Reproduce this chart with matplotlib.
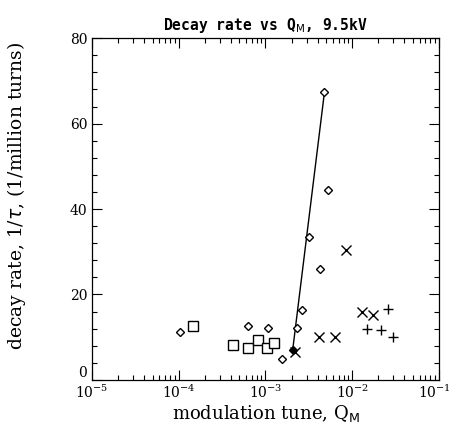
import matplotlib
matplotlib.use("Agg")
import matplotlib.pyplot as plt
import matplotlib.transforms as mtransforms
from matplotlib.ticker import LogLocator, MultipleLocator, NullFormatter

# data
diamond_q = [1.04e-4, 6.3e-4, 1.07e-3, 1.55e-3, 2.34e-3, 2.61e-3, 3.17e-3, 4.3e-3, 5.3e-3, 4.8e-3]
diamond_rate = [11.1, 12.6, 12.2, 5.0, 12.2, 16.4, 33.5, 26.0, 44.4, 67.4]

square_q = [1.46e-4, 4.2e-4, 6.25e-4, 8.3e-4, 1.05e-3, 1.26e-3]
square_rate = [12.7, 8.1, 7.5, 9.4, 7.4, 8.6]

cross_q = [2.22e-3, 4.2e-3, 6.4e-3, 8.4e-3, 1.29e-2, 1.73e-2]
cross_rate = [6.6, 10.0, 10.0, 30.4, 16.0, 15.1]

plus_q = [1.47e-2, 2.14e-2, 2.56e-2, 3.0e-2]
plus_rate = [11.9, 11.7, 16.7, 10.0]

filled_q = [2.06e-3]
filled_rate = [6.9]

fit_q = [2.06e-3, 4.8e-3]
fit_rate = [6.9, 67.4]

x_ticks = [1e-5, 1e-4, 1e-3, 1e-2, 1e-1]
y_ticks = [0, 20, 40, 60, 80]

plt.rcParams["font.family"] = ["DejaVu Serif"]

fig = plt.figure(figsize=(4.51, 4.24), dpi=100)
ax = fig.add_axes([0.204, 0.104, 0.769, 0.806])

ax.plot(fit_q, fit_rate, "-", color="black", lw=1.0)
ax.plot(diamond_q, diamond_rate, "D", ms=4.5, mfc="white", mec="black", mew=1.0, ls="none")
ax.plot(square_q, square_rate, "s", ms=7, mfc="white", mec="black", mew=1.0, ls="none")
ax.plot(cross_q, cross_rate, "x", ms=6.5, color="black", mew=1.0, ls="none")
ax.plot(plus_q, plus_rate, "+", ms=6.5, color="black", mew=1.0, ls="none")
ax.plot(filled_q, filled_rate, "D", ms=4.5, color="black", ls="none")

ax.set_xscale("log")
ax.set_xlim(1e-5, 1e-1)
ax.set_ylim(0, 80)
ax.set_xticks(x_ticks)
ax.set_yticks(y_ticks)
ax.xaxis.set_minor_locator(LogLocator(base=10, subs=range(2, 10), numticks=20))
ax.xaxis.set_minor_formatter(NullFormatter())
ax.yaxis.set_minor_locator(MultipleLocator(4))

ax.tick_params(which="both", direction="in", top=True, right=True, labelsize=10)
ax.tick_params(which="major", length=7, width=0.8)
ax.tick_params(which="minor", length=3.5, width=0.8)
ax.tick_params(axis="x", pad=3)
for s in ax.spines.values():
    s.set_linewidth(0.9)

ax.set_title(r"Decay rate vs Q$_\mathrm{M}$, 9.5kV", fontsize=10.5, pad=6,
             family="DejaVu Sans Mono", weight="bold")
ax.set_xlabel(r"modulation tune, Q$_\mathrm{M}$", fontsize=13, labelpad=1)
ax.set_ylabel(r"decay rate, 1/$\tau$, (1/million turns)", fontsize=13.5, labelpad=4)
ax.yaxis.set_label_coords(-0.185, 0.54)

# corner labels as in the original: "0" sits on the axis, 10^-1 kept inside
fig.canvas.draw()
ax.get_yticklabels()[0].set_va("bottom")
last = ax.get_xticklabels()[-1]
last.set_transform(last.get_transform() + mtransforms.ScaledTranslation(-3.5 / 72, 0, fig.dpi_scale_trans))

fig.savefig("out.png", dpi=100)
